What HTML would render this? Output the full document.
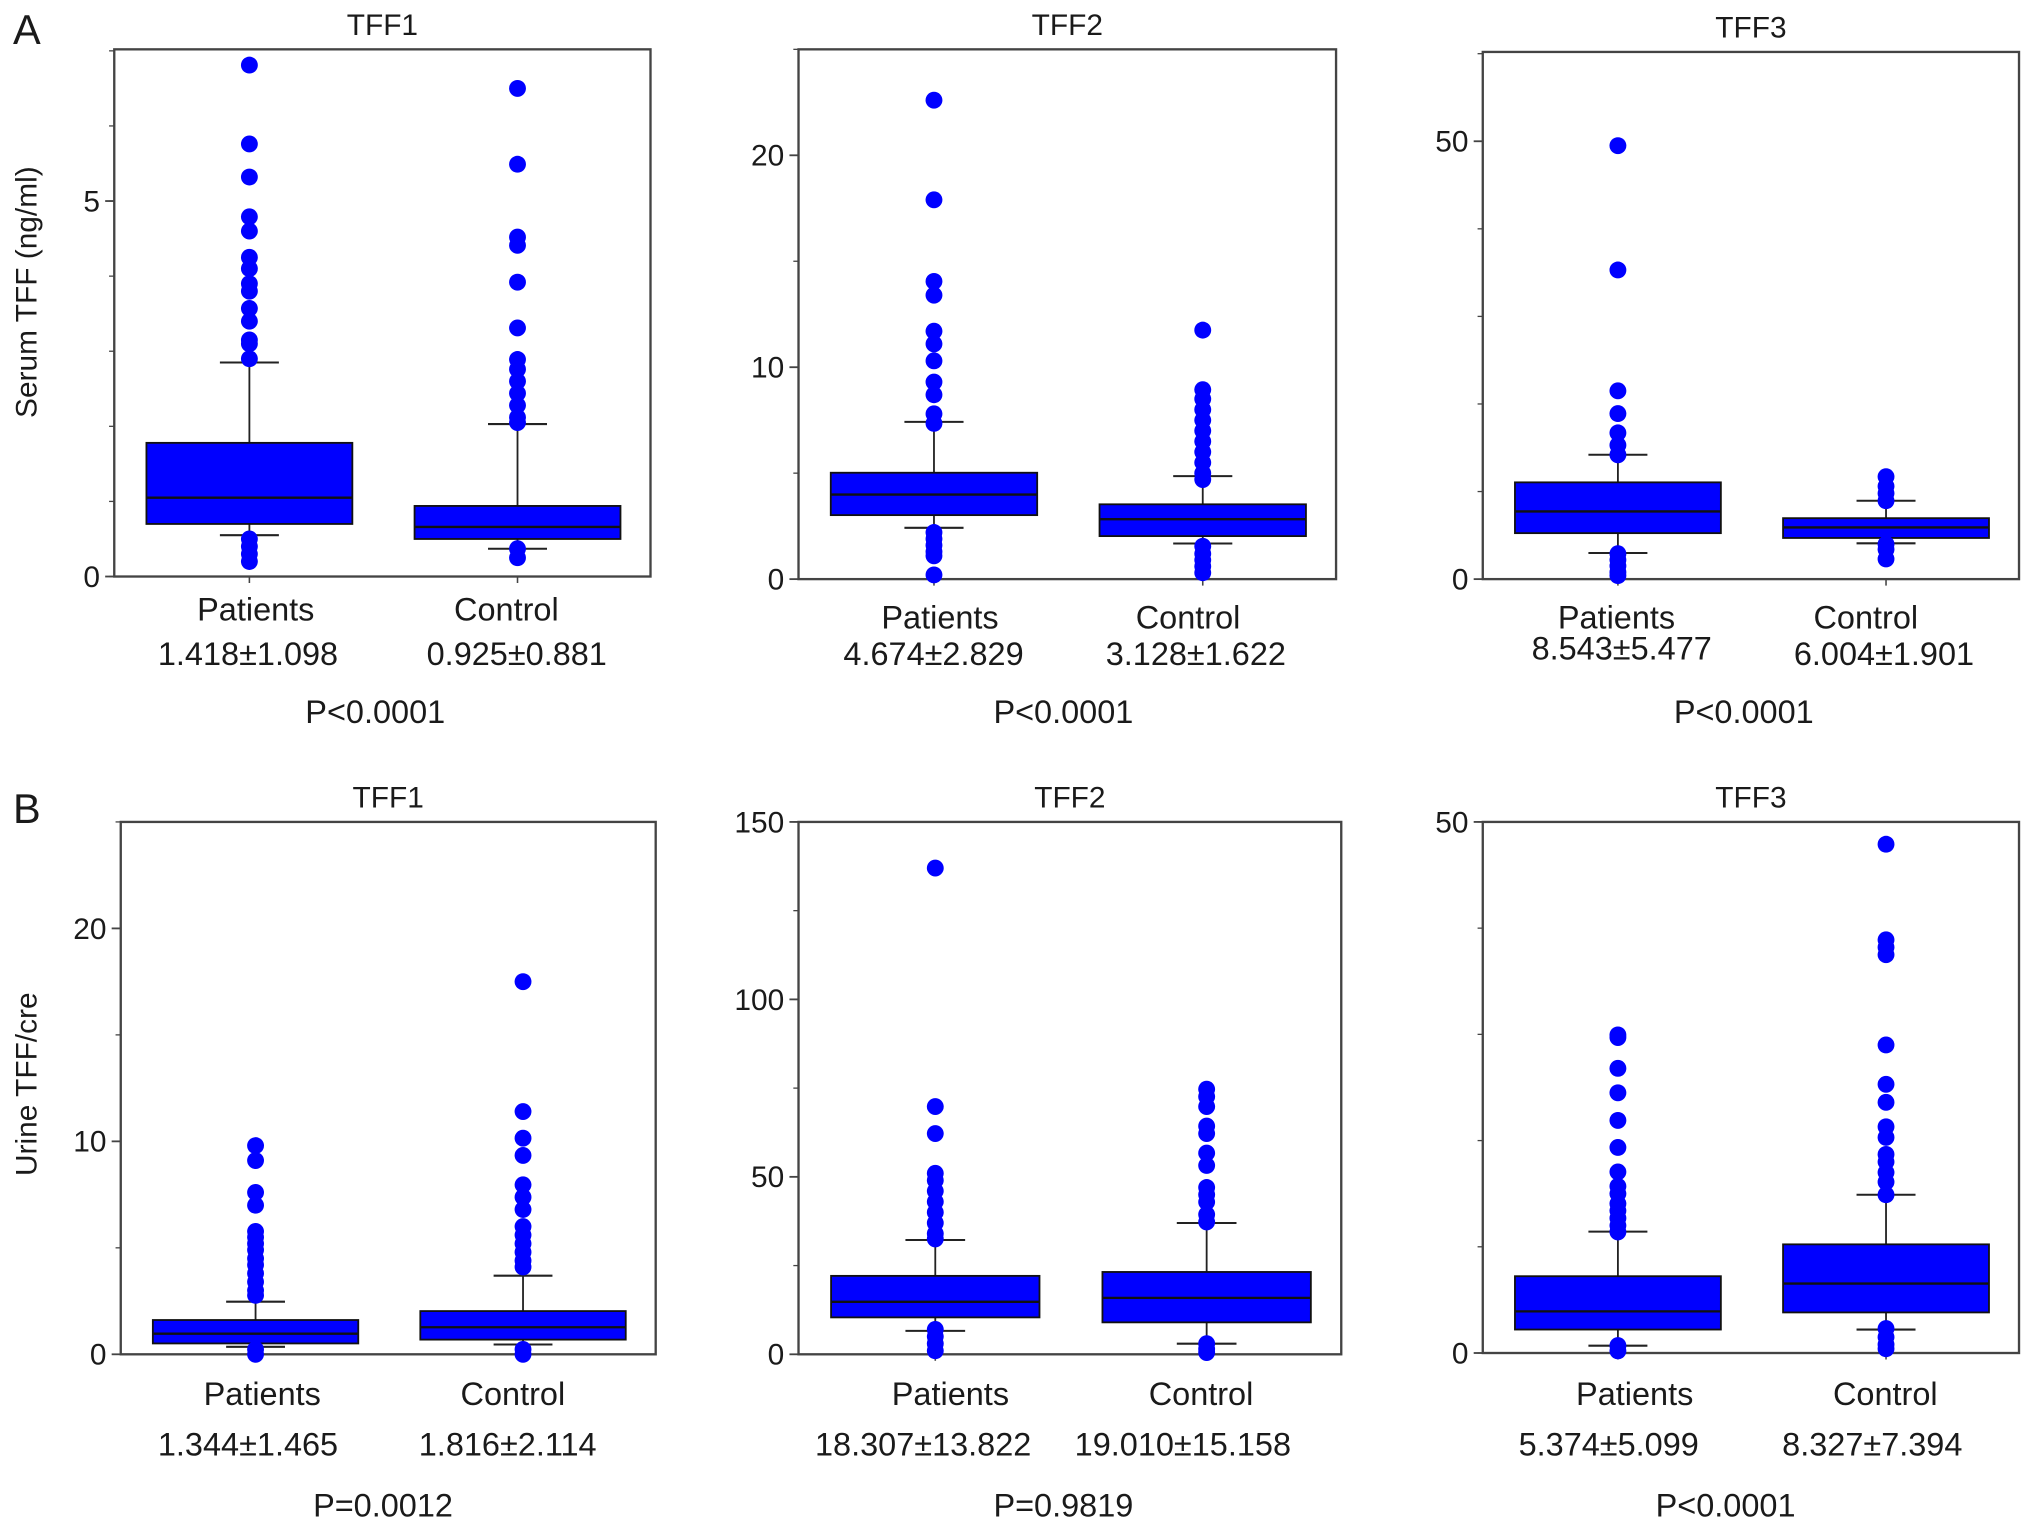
<!DOCTYPE html>
<html><head><meta charset="utf-8"><style>
html,body{margin:0;padding:0;background:#fff;}
svg{display:block;}
text{font-family:"Liberation Sans",Arial,sans-serif;fill:#1a1a1a;}
</style></head><body>
<svg id="fig" width="2032" height="1527" viewBox="0 0 1565 1176" preserveAspectRatio="none" xmlns="http://www.w3.org/2000/svg">
<rect x="0" y="0" width="1565" height="1176" fill="#fff"/>
<text x="10" y="34" font-size="32">A</text>
<text x="10" y="634" font-size="32">B</text>
<text transform="translate(28,225) rotate(-90)" text-anchor="middle" font-size="23">Serum TFF (ng/ml)</text>
<text transform="translate(28,835) rotate(-90)" text-anchor="middle" font-size="23">Urine TFF/cre</text>
</svg>
<script>
// ---- data ----
const panelTitles = ["TFF1","TFF2","TFF3","TFF1","TFF2","TFF3"];
const categories = ["Patients","Control"];
const yMax = [7.02, 25, 60.2, 25, 150, 50];
const majorTicks = [[0,5],[0,10,20],[0,50],[0,10,20],[0,50,100,150],[0,50]];
const minorStep = [1, 5, 10, 5, 25, 10];
// boxes: [lowerWhisker, q1, median, q3, upperWhisker]
const patientsBox = [
  [0.55,0.70,1.05,1.78,2.85],
  [2.42,3.02,3.99,5.02,7.42],
  [2.98,5.25,7.73,11.05,14.2],
  [0.35,0.51,0.97,1.61,2.47],
  [6.6,10.4,14.8,22.1,32.2],
  [0.69,2.21,3.92,7.23,11.43]
];
const controlBox = [
  [0.37,0.50,0.66,0.94,2.03],
  [1.68,2.03,2.83,3.53,4.86],
  [4.09,4.7,5.9,6.96,8.95],
  [0.46,0.69,1.27,2.03,3.69],
  [3.0,9.0,15.9,23.2,37],
  [2.21,3.82,6.54,10.23,14.9]
];
const patientsOutliers = [
  [6.81,5.76,5.32,4.79,4.6,4.25,4.1,3.9,3.8,3.57,3.4,3.15,3.1,2.9,0.5,0.4,0.3,0.2],
  [22.6,17.9,14.05,13.4,11.7,11.1,10.3,9.3,8.7,7.8,7.35,2.2,1.9,1.6,1.3,1.1,0.2],
  [49.5,35.3,21.5,18.9,16.7,15.3,14.2,2.9,2.2,1.5,0.8,0.4],
  [9.8,9.1,7.6,7.0,5.77,5.5,5.2,4.9,4.5,4.2,3.8,3.4,3.0,2.77,0.23,0],
  [137,69.8,62.2,51,49,46,43,40,37,34,32.5,7,5,3,1],
  [29.95,29.7,26.8,24.5,21.9,19.35,17.05,15.7,15,14.06,13.4,12.7,12,11.4,0.7,0.2]
];
const controlOutliers = [
  [6.5,5.49,4.52,4.41,3.92,3.31,2.89,2.76,2.6,2.44,2.28,2.12,2.05,0.37,0.25],
  [11.75,8.94,8.5,8.0,7.5,7.0,6.5,6.0,5.5,5.0,4.7,1.55,1.2,0.9,0.6,0.3],
  [11.7,10.6,9.8,8.95,4.0,3.4,2.3],
  [17.5,11.4,10.15,9.34,7.96,7.38,6.8,6.0,5.6,5.2,4.8,4.4,4.1,0.23,0],
  [74.7,72.6,69.8,64.3,62.2,56.7,53.2,47,45,42.9,39.4,37.3,3,1.5,0.5],
  [47.9,38.9,38.2,37.5,29,25.3,23.6,21.3,20.3,18.7,18,17,16.1,14.9,2.3,1.5,0.8,0.4]
];
const patientsStats = ["1.418±1.098","4.674±2.829","8.543±5.477","1.344±1.465","18.307±13.822","5.374±5.099"];
const controlStats = ["0.925±0.881","3.128±1.622","6.004±1.901","1.816±2.114","19.010±15.158","8.327±7.394"];
const pValues = ["P<0.0001","P<0.0001","P<0.0001","P=0.0012","P=0.9819","P<0.0001"];

// ---- layout (not data) ----
const frames = [
  {l:88,r:501,t:38,b:444},{l:615,r:1029,t:38,b:446},{l:1142,r:1555,t:40,b:446},
  {l:93,r:505,t:633,b:1043},{l:615,r:1033,t:633,b:1043},{l:1142,r:1555,t:633,b:1042}
];
const labelPos = [
  {c:[[197,478],[390,478]],s:[[191,512],[398,512]],p:[289,557]},
  {c:[[724,484],[915,484]],s:[[719,512],[921,512]],p:[819,557]},
  {c:[[1245,484],[1437,484]],s:[[1249,508],[1451,512]],p:[1343,557]},
  {c:[[202,1082],[395,1082]],s:[[191,1121],[391,1121]],p:[295,1168]},
  {c:[[732,1082],[925,1082]],s:[[711,1121],[911,1121]],p:[819,1168]},
  {c:[[1259,1082],[1452,1082]],s:[[1239,1121],[1442,1121]],p:[1329,1168]}
];
const NS = "http://www.w3.org/2000/svg";
const svg = document.getElementById('fig');
function mk(tag, attrs, parent){
  const e = document.createElementNS(NS, tag);
  for (const k in attrs) e.setAttribute(k, attrs[k]);
  (parent||svg).appendChild(e);
  return e;
}
function txt(x,y,s,size,parent){
  const t = mk('text',{x:x,y:y,'font-size':size,'text-anchor':'middle'},parent);
  t.textContent = s;
  return t;
}
for (let i=0;i<6;i++){
  const f = frames[i];
  const g = mk('g',{});
  
  
  const y = v => f.b - (v / yMax[i]) * (f.b - f.t);
  const xAt = frac => f.l + frac * (f.r - f.l);
  const title = txt((f.l+f.r)/2, f.t-11, panelTitles[i], 23, g);
  
  
  const frame = mk('rect',{x:f.l,y:f.t,width:f.r-f.l,height:f.b-f.t,fill:'none',stroke:'#444','stroke-width':1.8},g);
  
  
  for (let v=0; v<=yMax[i]+1e-9; v+=minorStep[i]){
    const mt = mk('line',{x1:f.l-4,x2:f.l,y1:y(v),y2:y(v),stroke:'#444','stroke-width':1},g);
    
    
  }
  majorTicks[i].forEach(v=>{
    const tk = mk('line',{x1:f.l-7,x2:f.l,y1:y(v),y2:y(v),stroke:'#444','stroke-width':1.4},g);
    
    
    const tl = mk('text',{x:f.l-11,y:y(v)+8,'font-size':23,'text-anchor':'end'},g);
    tl.textContent = v;
    
    
  });
  const groups = [[patientsBox[i],patientsOutliers[i],0.252],[controlBox[i],controlOutliers[i],0.752]];
  groups.forEach((gr,k)=>{
    const [bx,outs,cf] = gr;
    const cx = xAt(cf);
    const hw = 0.192*(f.r-f.l);
    const cw = 0.055*(f.r-f.l);
    const xt = mk('line',{x1:cx,x2:cx,y1:f.b,y2:f.b+5,stroke:'#444','stroke-width':1.2},g);
    
    
    const wl = mk('line',{x1:cx,x2:cx,y1:y(bx[0]),y2:y(bx[4]),stroke:'#222','stroke-width':1.4},g);
    
    
    [bx[0],bx[4]].forEach(v=>{
      const cap = mk('line',{x1:cx-cw,x2:cx+cw,y1:y(v),y2:y(v),stroke:'#222','stroke-width':1.6},g);
      
      
    });
    const box = mk('rect',{x:cx-hw,y:y(bx[3]),width:2*hw,height:y(bx[1])-y(bx[3]),fill:'#0000ff',stroke:'#111','stroke-width':1.4},g);
    
    
    const md = mk('line',{x1:cx-hw,x2:cx+hw,y1:y(bx[2]),y2:y(bx[2]),stroke:'#111','stroke-width':1.8},g);
    
    
    outs.forEach(v=>{
      const c = mk('circle',{cx:cx,cy:y(v),r:6.5,fill:'#0000ff'},g);
      
      
    });
    const lp = labelPos[i];
    const cl = txt(lp.c[k][0], lp.c[k][1], categories[k], 25, g);
    
    
    const st = txt(lp.s[k][0], lp.s[k][1], k===0?patientsStats[i]:controlStats[i], 25, g);
    
    
  });
  const pv = txt(labelPos[i].p[0], labelPos[i].p[1], pValues[i], 25, g);
  
  
}
</script>
</body></html>
